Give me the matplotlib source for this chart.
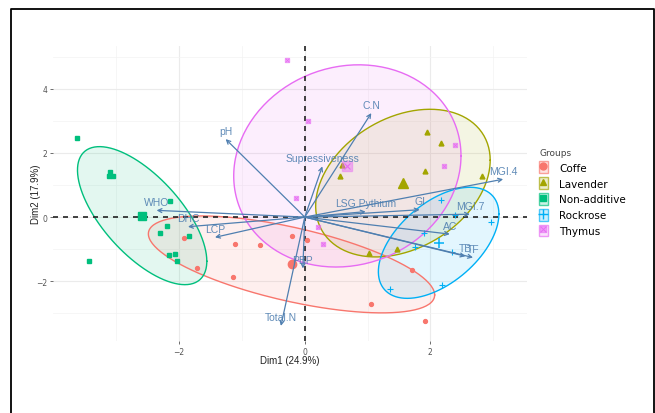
import numpy as np
import matplotlib.pyplot as plt
from matplotlib.lines import Line2D
from matplotlib.patches import Patch
from matplotlib.legend_handler import HandlerTuple

# individuals on the first two PCA dimensions, by group
groups = ['Coffe', 'Lavender', 'Non-additive', 'Rockrose', 'Thymus']
group_colors = ['#F8766D', '#A3A500', '#00BF7D', '#00B0F6', '#E76BF3']

coffe_x = [-1.92, -1.72, -1.11, -1.15, -0.72, -0.20, 0.04, 1.71, 1.05, 1.91]
coffe_y = [-0.66, -1.59, -0.85, -1.86, -0.87, -0.60, -0.72, -1.65, -2.71, -3.23]
lavender_x = [1.94, 2.17, 1.91, 2.83, 0.56, 1.03, 1.47, 0.60]
lavender_y = [2.64, 2.30, 1.44, 1.29, 1.29, -1.13, -0.98, 1.62]
nonadd_x = [-3.63, -3.10, -3.05, -3.12, -2.15, -2.19, -2.31, -1.84, -2.16, -2.07, -2.03, -3.43]
nonadd_y = [2.45, 1.40, 1.29, 1.29, 0.51, -0.27, -0.51, -0.58, -1.17, -1.15, -1.36, -1.36]
rockrose_x = [2.17, 2.40, 2.96, 1.75, 2.34, 1.35, 2.19, 1.90]
rockrose_y = [0.53, 0.08, -0.15, -0.93, -1.08, -2.24, -2.12, -0.50]
thymus_x = [-0.28, 0.05, -0.14, 2.40, 2.22, 0.29, 0.21]
thymus_y = [4.89, 3.00, 0.61, 2.24, 1.58, -0.84, -0.32]

# concentration ellipse spread per group (half extents on each dim, correlation)
ell_sx = [2.28, 1.39, 1.03, 0.96, 1.81]
ell_sy = [1.51, 2.30, 2.15, 1.73, 3.15]
ell_r = [-0.63, 0.31, -0.66, 0.52, 0.10]

# variable loadings (arrows)
var_names = ['pH', 'WHO', 'DHC', 'LCP', 'Supressiveness', 'C.N', 'LSG.Pythium',
             'GI', 'MGI.4', 'MGI.7', 'AC', 'TB', 'TF', 'PBP', 'Total.N']
var_x = [-1.26, -2.36, -1.86, -1.43, 0.28, 1.06, 0.97, 1.83, 3.16, 2.63, 2.31,
         2.56, 2.68, -0.03, -0.38]
var_y = [2.43, 0.21, -0.30, -0.63, 1.58, 3.24, 0.17, 0.23, 1.18, 0.09, -0.53,
         -1.22, -1.26, -1.60, -3.39]

xs = [coffe_x, lavender_x, nonadd_x, rockrose_x, thymus_x]
ys = [coffe_y, lavender_y, nonadd_y, rockrose_y, thymus_y]

fig = plt.figure(figsize=(6.55, 4.14), dpi=100)
ax = fig.add_axes([53 / 655, 72 / 414, 474 / 655, 295 / 414])
ax.set_xlim(-4.01, 3.54)
ax.set_ylim(-3.86, 5.33)

for s in ax.spines.values():
    s.set_visible(False)
ax.set_xticks([-2, 0, 2])
ax.set_yticks([-2, 0, 2, 4])
ax.set_xticks([-3, -1, 1, 3], minor=True)
ax.set_yticks([-3, -1, 1, 3, 5], minor=True)
ax.grid(True, which='major', color='#EBEBEB', lw=0.8)
ax.grid(True, which='minor', color='#F3F3F3', lw=0.5)
ax.tick_params(which='major', length=2, width=0.6, color='#555555',
               labelsize=5.5, labelcolor='#555555', pad=2)
ax.tick_params(which='minor', length=0)
ax.set_axisbelow(True)

ax.axhline(0, color='#222222', lw=1.2, ls=(0, (3, 3)), zorder=2)
ax.axvline(0, color='#222222', lw=1.2, ls=(0, (3, 3)), zorder=2)

t = np.linspace(0, 2 * np.pi, 200)
circle = np.vstack([np.cos(t), np.sin(t)])

markers = ['o', '^', 's', '+', 's']
for i, g in enumerate(groups):
    c = group_colors[i]
    gx, gy = np.array(xs[i]), np.array(ys[i])
    mx, my = gx.mean(), gy.mean()

    cov = np.array([[ell_sx[i] ** 2, ell_r[i] * ell_sx[i] * ell_sy[i]],
                    [ell_r[i] * ell_sx[i] * ell_sy[i], ell_sy[i] ** 2]])
    pts = np.linalg.cholesky(cov) @ circle
    ax.fill(mx + pts[0], my + pts[1], color=c, alpha=0.11, lw=0, zorder=1)
    ax.plot(mx + pts[0], my + pts[1], color=c, lw=1, zorder=1.5)

    if g == 'Thymus':
        ax.plot(gx, gy, ls='none', marker='s', ms=3.5, mfc=c, mec=c, alpha=0.55, zorder=3)
        ax.plot(gx, gy, ls='none', marker='x', ms=2.6, mec=c, mew=0.5, zorder=3)
        ax.plot(mx, my, ls='none', marker='s', ms=6.5, mfc=c, mec=c, alpha=0.45, zorder=3)
        ax.plot(mx, my, ls='none', marker='x', ms=5, mec=c, mew=0.8, zorder=3)
    elif g == 'Rockrose':
        ax.plot(gx, gy, ls='none', marker='+', ms=4.5, mec=c, mew=0.8, zorder=3)
        ax.plot(mx, my, ls='none', marker='+', ms=7.5, mec=c, mew=1.1, zorder=3)
    else:
        ms = 3.5 if markers[i] == '^' else 2.8
        big = 7 if markers[i] == '^' else 6
        ax.plot(gx, gy, ls='none', marker=markers[i], ms=ms, color=c, zorder=3)
        ax.plot(mx, my, ls='none', marker=markers[i], ms=big, color=c, zorder=3)

arrow_col = '#4F7FB0'
for name, vx, vy in zip(var_names, var_x, var_y):
    ax.annotate('', xy=(vx, vy), xytext=(0, 0),
                arrowprops=dict(arrowstyle='->', color=arrow_col, lw=0.9,
                                mutation_scale=7, shrinkA=0, shrinkB=0),
                zorder=4)
    ax.annotate(name, xy=(vx, vy), xytext=(0, 2.5), textcoords='offset points',
                ha='center', va='bottom', fontsize=7.5, color=arrow_col,
                family='Liberation Sans', alpha=0.9, zorder=5)

ax.set_xlabel('Dim1 (24.9%)', fontsize=7, color='#222222', family='Liberation Sans',
              va='center')
ax.set_ylabel('Dim2 (17.9%)', fontsize=7, color='#222222', family='Liberation Sans',
              va='center')
ax.xaxis.set_label_coords(0.5, -0.065)
ax.yaxis.set_label_coords(-0.036, 0.5)

handles = []
for i, g in enumerate(groups):
    c = group_colors[i]
    box = Patch(facecolor=c + '33', edgecolor=c + 'AA', lw=1)
    if g == 'Thymus':
        mk = (Line2D([], [], ls='none', marker='s', ms=5, mfc=c, mec=c, alpha=0.55),
              Line2D([], [], ls='none', marker='x', ms=4, mec=c, mew=0.7))
    elif g == 'Rockrose':
        mk = (Line2D([], [], ls='none', marker='+', ms=7, mec=c, mew=1),)
    else:
        mk = (Line2D([], [], ls='none', marker=markers[i], ms=5, color=c),)
    handles.append((box,) + mk)

leg = fig.legend(handles, groups, loc='upper left', bbox_to_anchor=(535 / 655, 1 - 145 / 414),
                 frameon=False, title='Groups', fontsize=7.5, title_fontsize=6.5,
                 handler_map={tuple: HandlerTuple(ndivide=1, pad=0)},
                 handlelength=0.8, handleheight=1.35, handletextpad=1.1,
                 labelspacing=0.4, borderaxespad=0)
leg._legend_box.align = 'left'
leg.get_title().set_color('#444444')

# outer frame: left, top and right edges, running off the bottom
frame_x = [11 / 655, 11 / 655, 654 / 655, 654 / 655]
frame_y = [0.0, 1 - 10 / 414, 1 - 10 / 414, 0.0]
fig.add_artist(Line2D(frame_x, frame_y, transform=fig.transFigure, color='black', lw=1.3))

fig.savefig('out.png', dpi=100)
